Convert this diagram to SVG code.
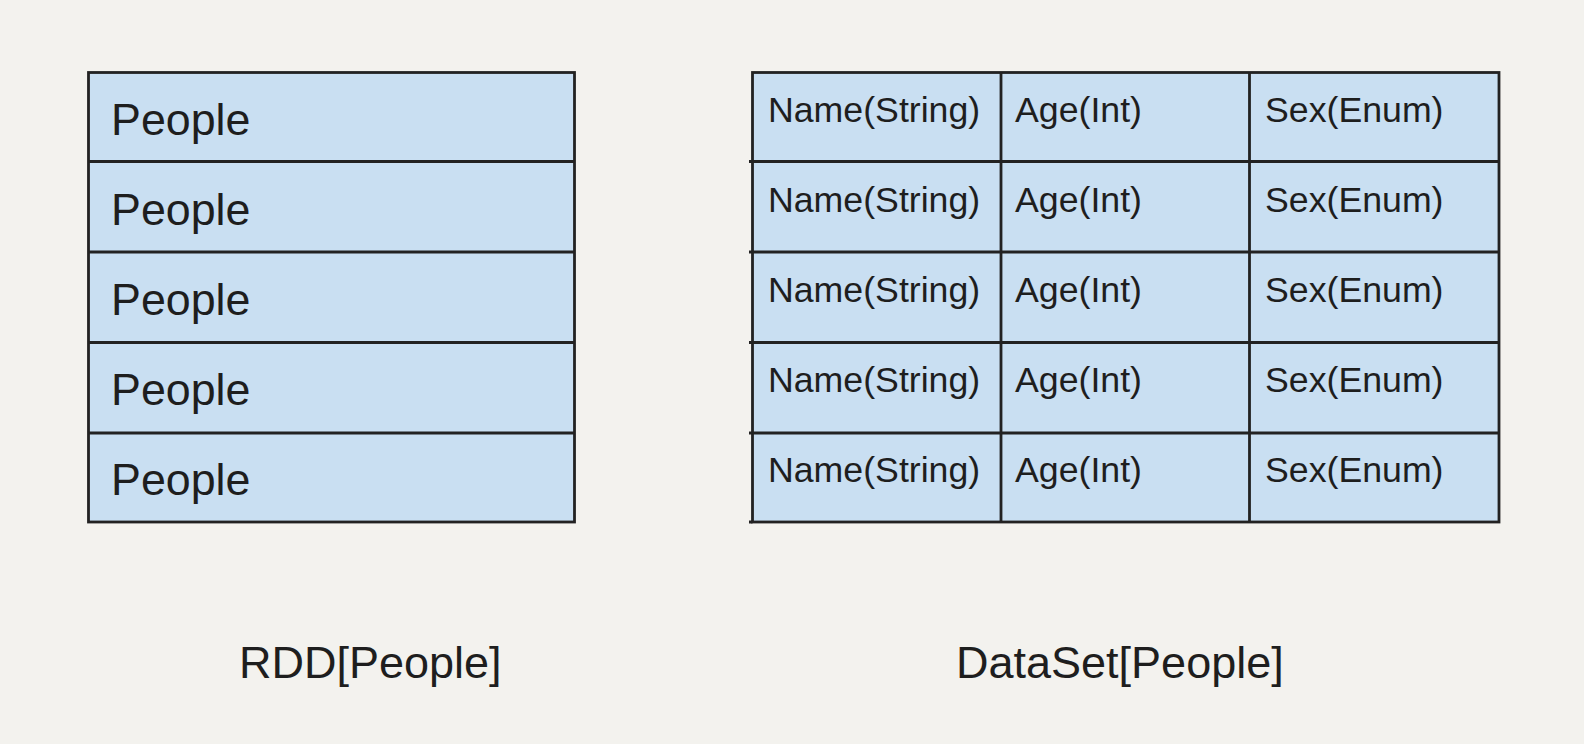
<svg xmlns="http://www.w3.org/2000/svg" width="1584" height="744" viewBox="0 0 1584 744">
<style>
.cell{fill:#c9dff2;stroke:#222;stroke-width:2.8}
.ln{stroke:#222;stroke-width:2.8;fill:none}
.big{font-family:"Liberation Sans",Arial,sans-serif;font-size:44.8px;fill:#1e1e1e}
.lbl{font-family:"Liberation Sans",Arial,sans-serif;font-size:45px;fill:#1e1e1e}
.sm{font-family:"Liberation Sans",Arial,sans-serif;font-size:35.7px;fill:#1e1e1e}
</style>
<rect x="0" y="0" width="1584" height="744" fill="#f3f2ee"/>
<g id="rdd">
<rect class="cell" x="88.5" y="72.5" width="486" height="449.5"/>
<g id="rdd-row1"><text class="big" x="111" y="135">People</text></g>
<g id="rdd-row2"><text class="big" x="111" y="225">People</text></g>
<g id="rdd-row3"><text class="big" x="111" y="315">People</text></g>
<g id="rdd-row4"><text class="big" x="111" y="405">People</text></g>
<g id="rdd-row5"><text class="big" x="111" y="495">People</text></g>
<path class="ln" d="M88.5 161.5H574.5M88.5 252H574.5M88.5 342.5H574.5M88.5 433H574.5"/>
</g>
<g id="dataset">
<rect class="cell" x="752.5" y="72.5" width="746.5" height="449.5"/>
<path class="ln" d="M749 161.5H1499M749 252H1499M749 342.5H1499M749 433H1499M749 522H752.5M1001 72.5V522M1249.5 72.5V522"/>
<g id="ds-row1">
<text class="sm" x="768" y="122">Name(String)</text><text class="sm" x="1015" y="122">Age(Int)</text><text class="sm" x="1265" y="122">Sex(Enum)</text>
</g>
<g id="ds-row2">
<text class="sm" x="768" y="212">Name(String)</text><text class="sm" x="1015" y="212">Age(Int)</text><text class="sm" x="1265" y="212">Sex(Enum)</text>
</g>
<g id="ds-row3">
<text class="sm" x="768" y="302">Name(String)</text><text class="sm" x="1015" y="302">Age(Int)</text><text class="sm" x="1265" y="302">Sex(Enum)</text>
</g>
<g id="ds-row4">
<text class="sm" x="768" y="392">Name(String)</text><text class="sm" x="1015" y="392">Age(Int)</text><text class="sm" x="1265" y="392">Sex(Enum)</text>
</g>
<g id="ds-row5">
<text class="sm" x="768" y="482">Name(String)</text><text class="sm" x="1015" y="482">Age(Int)</text><text class="sm" x="1265" y="482">Sex(Enum)</text>
</g>
</g>
<g id="connectors"/>
<g id="label-rdd"><text class="lbl" x="239" y="678">RDD[People]</text></g>
<g id="label-dataset"><text class="lbl" x="956" y="678">DataSet[People]</text></g>
</svg>
